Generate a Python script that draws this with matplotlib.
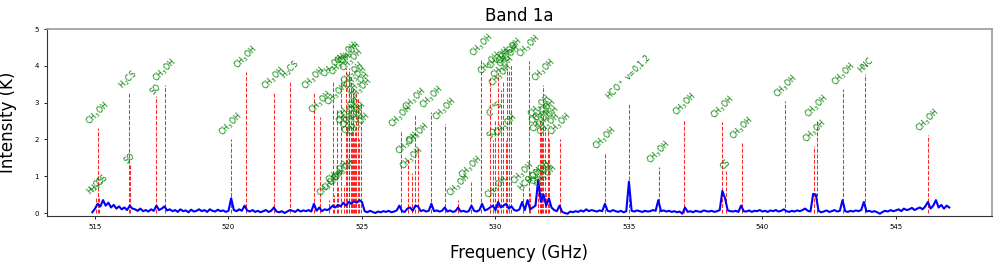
import numpy as np
import matplotlib
matplotlib.use("Agg")
import matplotlib.pyplot as plt

# ---- spectrum (0.1 GHz channels, 514.9 .. 547.0 GHz) ----
freq_start = 514.9
freq_step = 0.1
intensity = [
    0.02,
    0.12, 0.25, 0.18, 0.35, 0.20, 0.28, 0.15, 0.22, 0.12, 0.18,   # 515
    0.10, 0.15, 0.08, 0.20, 0.12, 0.10, 0.06, 0.12, 0.05, 0.08,   # 516
    0.04, 0.10, 0.06, 0.20, 0.08, 0.12, 0.18, 0.07, 0.10, 0.05,   # 517
    0.08, 0.03, 0.10, 0.05, 0.07, 0.02, 0.09, 0.04, 0.06, 0.10,   # 518
    0.05, 0.08, 0.03, 0.10, 0.06, 0.04, 0.09, 0.05, 0.07, 0.03,   # 519
    0.06, 0.40, 0.08, 0.05, 0.10, 0.06, 0.20, 0.07, 0.04, 0.08,   # 520
    0.03, 0.06, 0.02, 0.05, 0.08, 0.03, 0.06, 0.15, 0.04, 0.02,   # 521
    0.05, 0.00, 0.04, 0.08, 0.06, 0.03, 0.09, 0.04, 0.07, 0.05,   # 522
    0.08, 0.04, 0.25, 0.06, 0.15, 0.05, 0.10, 0.08, 0.12, 0.20,   # 523
    0.15, 0.22, 0.18, 0.28, 0.20, 0.30, 0.25, 0.32, 0.28, 0.35,   # 524
    0.30, 0.05, 0.02, 0.06, 0.03, 0.00, 0.04, 0.02, 0.05, 0.03,   # 525
    0.06, 0.02, 0.04, 0.07, 0.20, 0.05, 0.03, 0.12, 0.15, 0.06,   # 526
    0.20, 0.18, 0.05, 0.08, 0.04, 0.06, 0.25, 0.05, 0.07, 0.04,   # 527
    0.06, 0.15, 0.04, 0.07, 0.03, 0.05, 0.15, 0.04, 0.06, 0.03,   # 528
    0.05, 0.20, 0.06, 0.04, 0.08, 0.25, 0.07, 0.10, 0.15, 0.20,   # 529
    0.08, 0.30, 0.15, 0.20, 0.25, 0.12, 0.18, 0.08, 0.06, 0.10,   # 530
    0.30, 0.08, 0.35, 0.10, 0.15, 0.20, 0.90, 0.30, 0.50, 0.20,   # 531
    0.40, 0.15, 0.08, 0.05, 0.20, 0.03, 0.00, -0.02, 0.04, 0.02,  # 532
    0.05, 0.03, 0.07, 0.04, 0.10, 0.05, 0.08, 0.06, 0.04, 0.07,   # 533
    0.05, 0.25, 0.06, 0.04, 0.08, 0.05, 0.03, 0.06, 0.02, 0.05,   # 534
    0.85, 0.06, 0.04, 0.07, 0.05, 0.03, 0.06, 0.04, 0.05, 0.08,   # 535
    0.06, 0.35, 0.05, 0.07, 0.04, 0.06, 0.03, 0.05, 0.02, 0.04,   # 536
    -0.02, 0.15, 0.03, 0.05, 0.02, 0.06, 0.04, 0.03, 0.07, 0.05,  # 537
    0.04, 0.06, 0.03, 0.05, 0.08, 0.60, 0.40, 0.07, 0.05, 0.04,   # 538
    0.06, 0.03, 0.20, 0.05, 0.04, 0.07, 0.03, 0.06, 0.05, 0.08,   # 539
    0.04, 0.06, 0.03, 0.07, 0.05, 0.08, 0.04, 0.06, 0.10, 0.05,   # 540
    0.03, 0.06, 0.04, 0.07, 0.05, 0.08, 0.12, 0.06, 0.04, 0.52,   # 541
    0.50, 0.06, 0.02, 0.04, 0.07, 0.03, 0.05, 0.08, 0.04, 0.06,   # 542
    0.35, 0.05, 0.03, 0.06, 0.04, 0.07, 0.05, 0.08, 0.30, 0.04,   # 543
    0.06, 0.03, 0.05, 0.02, -0.02, 0.03, 0.06, 0.04, 0.08, 0.05,  # 544
    0.07, 0.10, 0.05, 0.12, 0.08, 0.10, 0.14, 0.08, 0.12, 0.15,   # 545
    0.10, 0.18, 0.30, 0.12, 0.20, 0.35, 0.15, 0.22, 0.12, 0.20,   # 546
    0.15,
]
freq = freq_start + freq_step * np.arange(len(intensity))

# ---- line identifications ----
CH3OH = r"CH$_3$OH"
H2CS = r"H$_2$CS"
line_freq = [
    515.05, 515.15, 515.10, 516.26, 516.30, 517.27, 517.61,
    520.10, 520.64, 521.70, 522.32, 523.20, 523.44,
    523.75, 523.92, 523.95, 524.06, 524.10, 524.20, 524.31,
    524.42, 524.45, 524.50, 524.53, 524.60, 524.62, 524.66,
    524.70, 524.72, 524.78, 524.86, 524.88, 524.97,
    526.45, 526.71, 526.86, 526.99, 527.10, 527.60, 528.11,
    528.61, 529.09, 529.47, 529.80, 529.90, 529.98, 530.05,
    530.11, 530.20, 530.28, 530.40, 530.45, 530.50, 530.58,
    531.02, 531.25, 531.30, 531.58, 531.65, 531.70, 531.72,
    531.75, 531.79, 531.85, 531.88, 531.95, 532.00, 532.40,
    534.10, 535.00, 536.12, 537.08, 538.50, 538.63, 539.23,
    540.86, 541.95, 542.04, 543.03, 543.86, 546.19,
]
line_height = [
    0.40, 0.45, 2.30, 3.30, 1.30, 3.18, 3.48,
    2.01, 3.84, 3.25, 3.57, 3.27, 2.62,
    0.35, 3.59, 0.50, 2.84, 0.70, 3.63, 0.76,
    3.93, 2.30, 2.45, 3.93, 3.75, 2.20, 3.40,
    2.05, 2.30, 3.30, 3.12, 2.00, 2.95,
    2.23, 1.50, 1.10, 2.69, 1.73, 2.75, 2.42,
    0.35, 0.85, 4.16, 3.66, 1.98, 2.53, 0.30,
    3.80, 3.34, 3.55, 1.99, 3.95, 3.85, 4.05,
    0.68, 4.14, 0.55, 0.76, 2.50, 2.30, 0.65,
    2.10, 3.49, 2.40, 0.60, 2.20, 2.00, 2.01,
    1.62, 2.98, 1.26, 2.55, 2.47, 1.14, 1.91,
    3.04, 1.82, 2.51, 3.37, 3.78, 2.12,
]
line_label = [
    H2CS, H2CS, CH3OH, H2CS, "SO", "SO", CH3OH,
    CH3OH, CH3OH, CH3OH, H2CS, CH3OH, CH3OH,
    CH3OH, CH3OH, CH3OH, CH3OH, CH3OH, CH3OH, CH3OH,
    CH3OH, CH3OH, CH3OH, CH3OH, CH3OH, CH3OH, CH3OH,
    CH3OH, CH3OH, CH3OH, CH3OH, CH3OH, CH3OH,
    CH3OH, CH3OH, CH3OH, CH3OH, CH3OH, CH3OH, CH3OH,
    CH3OH, CH3OH, CH3OH, CH3OH, "SO", r"C$^{34}$S", CH3OH,
    CH3OH, CH3OH, CH3OH, CH3OH, CH3OH, CH3OH, CH3OH,
    CH3OH, CH3OH, "HCOOH", "HCOOH", CH3OH, CH3OH, CH3OH,
    CH3OH, CH3OH, CH3OH, CH3OH, CH3OH, CH3OH, CH3OH,
    CH3OH, r"HCO$^+$ v=0,1,2", CH3OH, CH3OH, CH3OH, "CS", CH3OH,
    CH3OH, CH3OH, CH3OH, CH3OH, "HNC", CH3OH,
]

title = "Band 1a"
xlabel = "Frequency (GHz)"
ylabel = "Intensity (K)"

fig = plt.figure(figsize=(9.97, 2.64), dpi=100)
ax = fig.add_axes([0.0471, 0.182, 0.9479, 0.708])

ax.plot(freq, intensity, color="blue", lw=1.5, zorder=3)
for f, h, lab in zip(line_freq, line_height, line_label):
    ax.plot([f, f], [0, h], color="red", ls="--", lw=0.75, alpha=0.85, zorder=2)
    ax.text(f, h, lab, rotation=45, ha="center", va="bottom",
            color="green", fontsize=5.7, zorder=4)

ax.set_xlim(513.2, 548.6)
ax.set_ylim(-0.08, 5)
ax.set_xticks([515, 520, 525, 530, 535, 540, 545])
ax.set_yticks([0, 1, 2, 3, 4, 5])
ax.tick_params(labelsize=5, length=2.5, width=0.6)
ax.set_title(title, fontsize=12, pad=6)
ax.set_xlabel(xlabel, fontsize=12, labelpad=10)
ax.set_ylabel(ylabel, fontsize=12, labelpad=12)
for s in ["top", "right"]:
    ax.spines[s].set_color("#999999")
    ax.spines[s].set_linewidth(1.2)
for s in ["left", "bottom"]:
    ax.spines[s].set_color("#333333")
    ax.spines[s].set_linewidth(0.8)

fig.savefig("out.png", dpi=100)
